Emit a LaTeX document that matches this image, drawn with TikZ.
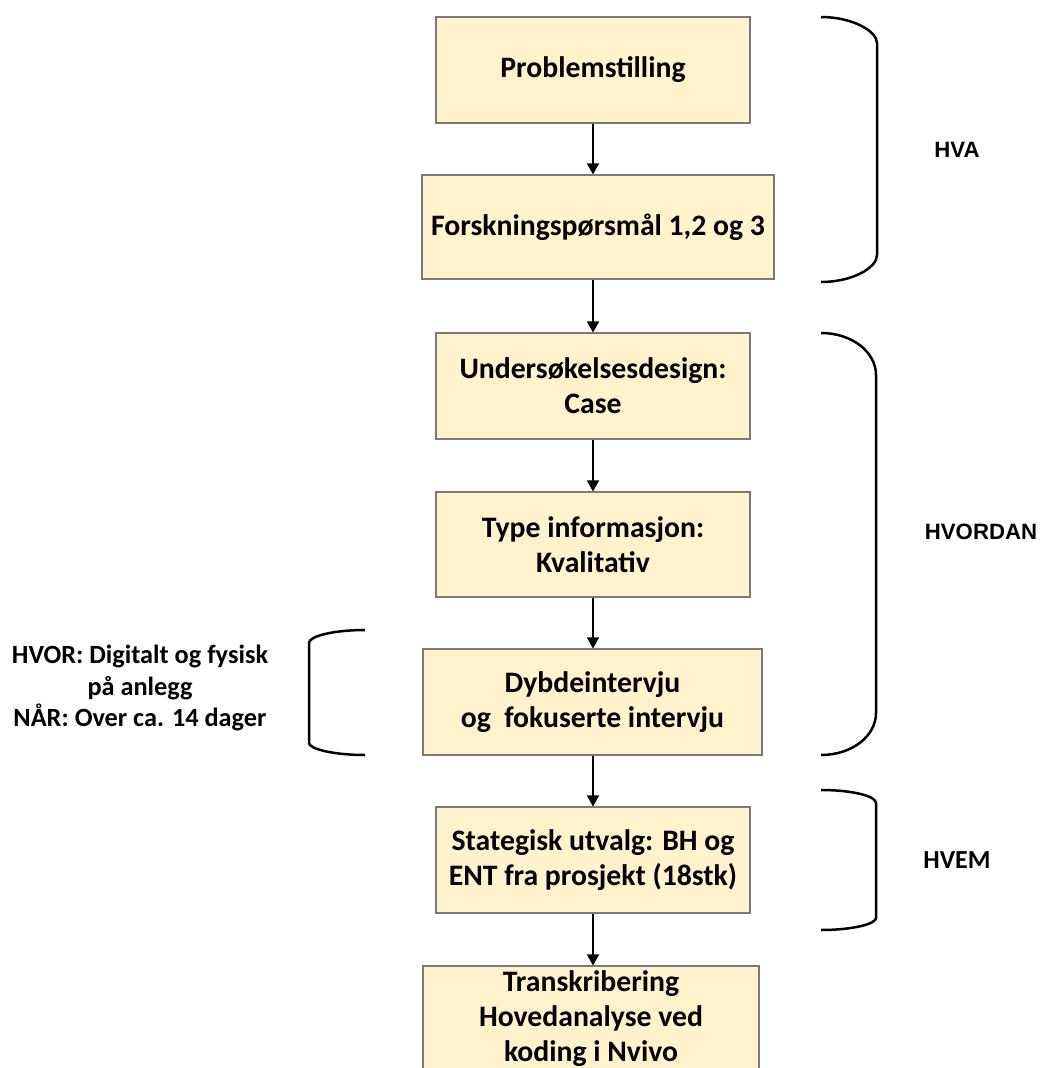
\documentclass[tikz,border=0pt]{standalone}
\usepackage{fontspec}
\setmainfont{Carlito}
\newfontfamily\arialfont{Liberation Sans}
\usetikzlibrary{arrows.meta}
\definecolor{boxfill}{HTML}{FFF2CC}
\definecolor{boxline}{HTML}{7A7A7A}
\begin{document}
\begin{tikzpicture}[x=1pt,y=-1pt,
  stepbox/.style={draw=boxline,line width=1.1pt,fill=boxfill,inner sep=0pt,
    align=center,font=\bfseries\fontsize{29.7}{35}\selectfont},
  flow/.style={line width=1.6pt,-{Triangle[width=12pt,length=11pt]}},
  brace/.style={line width=2.5pt},
  sidelabel/.style={inner sep=0pt,align=center}]
\useasboundingbox (0,0) rectangle (1040,1068);
\clip (0,0) rectangle (1040,1068);

% process boxes
\node[stepbox,minimum width=314pt,minimum height=106pt] (b1) at (593,70) {Problemstilling};
\node[stepbox,minimum width=352pt,minimum height=104pt] (b2) at (598,227) {Forskningspørsmål 1,2 og 3};
\node[stepbox,minimum width=314pt,minimum height=106pt] (b3) at (593,386) {Undersøkelsesdesign:\\Case};
\node[stepbox,minimum width=314pt,minimum height=105pt] (b4) at (593,544.5) {Type informasjon:\\Kvalitativ};
\node[stepbox,minimum width=339pt,minimum height=106pt] (b5) at (592.5,702) {Dybdeintervju\\og\ \ fokuserte intervju};
\node[stepbox,minimum width=314pt,minimum height=106pt] (b6) at (593,860) {Stategisk utvalg: BH og\\ENT fra prosjekt (18stk)};
\node[stepbox,minimum width=336pt,minimum height=106pt] (b7) at (591,1019) {Transkribering\\Hovedanalyse ved\\koding i Nvivo};

% connectors
\draw[flow] (b1.south) -- (b1.south |- b2.north);
\draw[flow] (b3.north |- b2.south) -- (b3.north);
\draw[flow] (b3.south) -- (b4.north);
\draw[flow] (b4.south) -- (b4.south |- b5.north);
\draw[flow] (b6.north |- b5.south) -- (b6.north);
\draw[flow] (b6.south) -- (b6.south |- b7.north);

% brackets on the right
\draw[brace] (821,17) .. controls (852,17) and (877,31) .. (877,43)
  -- (877,255) .. controls (877,268) and (852,282) .. (821,282);
\draw[brace] (821,333) .. controls (852,333) and (876,352) .. (876,375)
  -- (876,713) .. controls (876,736) and (852,755) .. (821,755);
\draw[brace] (821,790) .. controls (852,790) and (876,796) .. (876,803)
  -- (876,918) .. controls (876,924) and (852,930) .. (821,930);

% bracket on the left
\draw[brace] (365,630) .. controls (334,630) and (309,636) .. (309,643)
  -- (309,743) .. controls (309,749) and (334,755) .. (365,755);

% labels
\node[sidelabel,font=\arialfont\bfseries\fontsize{22.2}{26}\selectfont] (hva) at (957,150) {HVA};
\node[sidelabel,font=\arialfont\bfseries\fontsize{22.2}{26}\selectfont] (hvordan) at (981,532) {HVORDAN};
\node[sidelabel,font=\bfseries\fontsize{26}{30}\selectfont] (hvem) at (957,860) {HVEM};
\node[sidelabel,font=\bfseries\fontsize{26.3}{31.5}\selectfont] (hvor) at (140,688) {HVOR: Digitalt og fysisk\\på anlegg\\NÅR: Over ca. 14 dager};
\end{tikzpicture}
\end{document}
